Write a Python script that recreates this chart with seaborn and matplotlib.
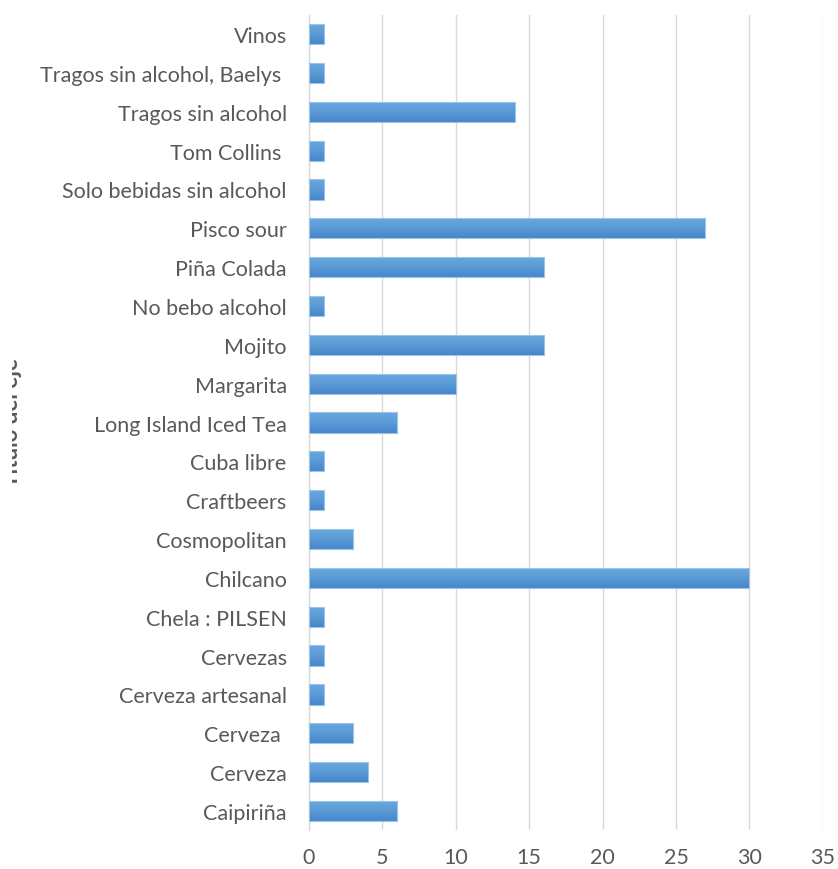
import matplotlib
matplotlib.use("Agg")
import matplotlib.pyplot as plt
from matplotlib.patches import Rectangle
import numpy as np
import seaborn as sns
import pandas as pd

categories = [
    "Vinos", "Tragos sin alcohol, Baelys ", "Tragos sin alcohol", "Tom Collins ",
    "Solo bebidas sin alcohol", "Pisco sour", "Piña Colada", "No bebo alcohol",
    "Mojito", "Margarita", "Long Island Iced Tea", "Cuba libre", "Craftbeers",
    "Cosmopolitan", "Chilcano", "Chela : PILSEN", "Cervezas", "Cerveza artesanal",
    "Cerveza ", "Cerveza", "Caipiriña",
]
values = [1, 1, 14, 1, 1, 27, 16, 1, 16, 10, 6, 1, 1, 3, 30, 1, 1, 1, 3, 4, 6]
x_ticks = [0, 5, 10, 15, 20, 25, 30, 35]
axis_title = "Título del eje"

df = pd.DataFrame({"bebida": categories, "votos": values})

sns.set_theme(style="white")
plt.rcParams["font.family"] = ["Lato", "DejaVu Sans"]

fig = plt.figure(figsize=(8.38, 8.70), dpi=100)
ax = fig.add_axes([0.3687, 0.0444, 0.982 - 0.3687, 0.982 - 0.0444])

sns.barplot(data=df, y="bebida", x="votos", order=categories, orient="h",
            color="#5b9bd5", saturation=1, width=0.52, ax=ax,
            edgecolor="#9cc3e8", linewidth=0.8, zorder=3)

ax.set_xlim(0, 35)
ax.set_xticks(x_ticks)
ax.set_ylim(len(categories) - 0.5, -0.5)

# soft vertical gradient inside each bar (lighter top, deeper bottom)
grad_cmap = matplotlib.colors.LinearSegmentedColormap.from_list(
    "bar_grad", ["#6ba7e0", "#5b9bd5", "#4786cb"])
grad = np.linspace(0, 1, 64).reshape(-1, 1)
for bar in ax.patches:
    x0, y0 = bar.get_x(), bar.get_y()
    w, h = bar.get_width(), bar.get_height()
    im = ax.imshow(grad, cmap=grad_cmap, aspect="auto", interpolation="bicubic",
                   extent=(x0, x0 + w, y0 + h, y0), origin="upper", zorder=3.5)
    im.set_clip_path(bar)
    bar.set_facecolor("none")
    bar.set_zorder(4)
ax.set_xlim(0, 35)
ax.set_ylim(len(categories) - 0.5, -0.5)

ax.grid(axis="x", color="#d9d9d9", linewidth=1, zorder=0)
ax.grid(axis="y", visible=False)
for side in ("top", "right", "bottom"):
    ax.spines[side].set_visible(False)
ax.spines["left"].set_color("#d9d9d9")
ax.spines["left"].set_linewidth(1)
ax.set_xlabel("")
ax.set_ylabel("")
ax.tick_params(axis="y", length=0, pad=16, labelsize=15.5, labelcolor="#595959")
ax.tick_params(axis="x", length=0, pad=12, labelsize=15.5, labelcolor="#595959")

fig.text(11.5 / 838, 1 - 423 / 870, axis_title, rotation=90, ha="center", va="center",
         fontsize=16, color="#595959", fontweight="bold")
# the chart area starts a little inside the left edge, cutting the axis title
fig.add_artist(Rectangle((0, 0), 12 / 838, 1, transform=fig.transFigure,
                         facecolor="white", edgecolor="none", zorder=10))

fig.savefig("out.png", dpi=100)
